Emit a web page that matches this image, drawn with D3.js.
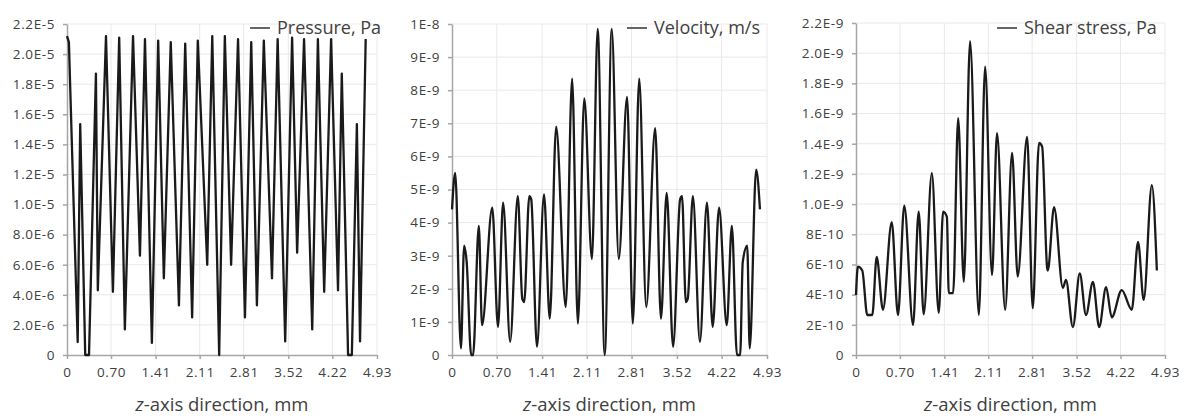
<!DOCTYPE html>
<html lang="en">
<head>
    <meta charset="UTF-8">
    <title>Pressure, velocity and shear stress along z</title>
    <script src="https://d3js.org/d3.v7.min.js"></script>
    <style>
        body { margin: 0; background: #fff; }
        .grid line { stroke: #e9e9e9; stroke-width: 1; }
        .axis path, .axis line { stroke: #a6a6a6; stroke-width: 1.5; }
        .axis text { font-family: 'Open Sans', sans-serif; font-size: 13.5px; fill: #404040; letter-spacing: 0.6px; }
        .data-line { fill: none; stroke: #1a1a1a; stroke-width: 2.3; stroke-linejoin: round; }
        .legend text { font-family: 'Open Sans', sans-serif; font-size: 18px; fill: #404040; }
        .title { font-family: 'Open Sans', sans-serif; font-size: 18.5px; fill: #404040; }
    </style>
</head>
<body>
<script>
    // x axis (mm) shared by the three panels
    const xTickValues = [0, 0.70, 1.41, 2.11, 2.81, 3.52, 4.22, 4.93];
    const xTickLabels = ['0', '0.70', '1.41', '2.11', '2.81', '3.52', '4.22', '4.93'];

    // pressure, Pa
    const pressureZ = [0.00, 0.03, 0.17, 0.21, 0.29, 0.35, 0.46, 0.49, 0.62, 0.73, 0.83, 0.92, 1.05, 1.16, 1.24, 1.35,
        1.45, 1.54, 1.65, 1.78, 1.88, 1.99, 2.08, 2.23, 2.31, 2.42, 2.51, 2.61, 2.72, 2.83, 2.93, 3.02, 3.13, 3.26,
        3.35, 3.47, 3.58, 3.66, 3.77, 3.90, 3.99, 4.09, 4.20, 4.31, 4.37, 4.47, 4.53, 4.61, 4.66, 4.75];
    const pressureVals = [2.12e-5, 2.08e-5, 0.86e-6, 1.535e-5, 0, 0, 1.87e-5, 4.3e-6, 2.12e-5, 4.2e-6, 2.11e-5, 1.7e-6,
        2.12e-5, 6.6e-6, 2.10e-5, 0.8e-6, 2.09e-5, 5.1e-6, 2.08e-5, 3.3e-6, 2.07e-5, 2.5e-6, 2.09e-5, 6.0e-6, 2.12e-5,
        0, 2.12e-5, 6.0e-6, 2.10e-5, 2.5e-6, 2.08e-5, 3.3e-6, 2.09e-5, 5.1e-6, 2.10e-5, 0.9e-6, 2.11e-5, 6.8e-6,
        2.10e-5, 1.7e-6, 2.10e-5, 4.2e-6, 2.10e-5, 4.3e-6, 1.87e-5, 0, 0, 1.535e-5, 0.9e-6, 2.10e-5];
    const pressureTicks = [0, 2e-6, 4e-6, 6e-6, 8e-6, 1e-5, 1.2e-5, 1.4e-5, 1.6e-5, 1.8e-5, 2e-5, 2.2e-5];
    const pressureTickLabels = ['0', '2.0E-6', '4.0E-6', '6.0E-6', '8.0E-6', '1.0E-5', '1.2E-5', '1.4E-5', '1.6E-5',
        '1.8E-5', '2.0E-5', '2.2E-5'];

    // velocity, m/s
    const velocityZ = [0.00, 0.05, 0.14, 0.19, 0.23, 0.30, 0.33, 0.42, 0.47, 0.63, 0.72, 0.80, 0.91, 1.03, 1.10, 1.13,
        1.21, 1.24, 1.33, 1.44, 1.53, 1.63, 1.78, 1.88, 1.97, 2.07, 2.19, 2.28, 2.39, 2.50, 2.61, 2.74, 2.83, 2.93,
        3.04, 3.18, 3.27, 3.36, 3.46, 3.57, 3.60, 3.66, 3.69, 3.77, 3.88, 3.99, 4.08, 4.18, 4.30, 4.38, 4.46, 4.51,
        4.55, 4.62, 4.66, 4.76, 4.82];
    const velocityVals = [4.4e-9, 5.5e-9, 0.2e-9, 3.3e-9, 2.8e-9, 0, 0, 3.9e-9, 0.9e-9, 4.45e-9, 0.85e-9, 4.6e-9, 0.4e-9,
        4.8e-9, 1.7e-9, 1.6e-9, 4.8e-9, 4.7e-9, 0.25e-9, 4.85e-9, 1.1e-9, 6.9e-9, 1.45e-9, 8.35e-9, 0.95e-9, 7.75e-9,
        2.9e-9, 9.85e-9, 0, 9.85e-9, 2.9e-9, 7.8e-9, 0.95e-9, 8.35e-9, 1.45e-9, 6.85e-9, 1.1e-9, 4.9e-9, 0.25e-9,
        4.7e-9, 4.8e-9, 1.6e-9, 1.7e-9, 4.8e-9, 0.4e-9, 4.6e-9, 0.85e-9, 4.45e-9, 0.9e-9, 3.9e-9, 0, 0, 2.8e-9,
        3.3e-9, 0.2e-9, 5.6e-9, 4.4e-9];
    const velocityTicks = [0, 1e-9, 2e-9, 3e-9, 4e-9, 5e-9, 6e-9, 7e-9, 8e-9, 9e-9, 1e-8];
    const velocityTickLabels = ['0', '1E-9', '2E-9', '3E-9', '4E-9', '5E-9', '6E-9', '7E-9', '8E-9', '9E-9', '1E-8'];

    // shear stress, Pa
    const shearZ = [0.00, 0.03, 0.10, 0.18, 0.26, 0.33, 0.43, 0.57, 0.67, 0.77, 0.91, 1.00, 1.08, 1.21, 1.32, 1.39,
        1.45, 1.48, 1.55, 1.63, 1.72, 1.82, 1.96, 2.06, 2.17, 2.25, 2.38, 2.49, 2.58, 2.73, 2.82, 2.92, 2.97, 3.05,
        3.06, 3.16, 3.30, 3.35, 3.46, 3.57, 3.67, 3.78, 3.88, 3.99, 4.08, 4.24, 4.40, 4.50, 4.59, 4.72, 4.80];
    const shearVals = [3.98e-10, 5.85e-10, 5.6e-10, 2.65e-10, 2.65e-10, 6.5e-10, 3.0e-10, 8.8e-10, 2.65e-10, 9.9e-10,
        2.0e-10, 9.5e-10, 2.7e-10, 1.205e-9, 2.8e-10, 9.5e-10, 9.15e-10, 4.1e-10, 4.1e-10, 1.57e-9, 4.85e-10, 2.08e-9,
        2.65e-10, 1.91e-9, 5.3e-10, 1.47e-9, 3.0e-10, 1.34e-9, 5.2e-10, 1.445e-9, 3.1e-10, 1.405e-9, 1.38e-9,
        5.75e-10, 5.6e-10, 9.8e-10, 4.45e-10, 4.97e-10, 1.85e-10, 5.4e-10, 2.65e-10, 4.85e-10, 1.85e-10, 4.5e-10,
        2.5e-10, 4.3e-10, 3.0e-10, 7.5e-10, 3.65e-10, 1.125e-9, 5.6e-10];
    const shearTicks = [0, 2e-10, 4e-10, 6e-10, 8e-10, 1e-9, 1.2e-9, 1.4e-9, 1.6e-9, 1.8e-9, 2e-9, 2.2e-9];
    const shearTickLabels = ['0', '2E-10', '4E-10', '6E-10', '8E-10', '1.0E-9', '1.2E-9', '1.4E-9', '1.6E-9', '1.8E-9',
        '2.0E-9', '2.2E-9'];

    const svg = d3.select('body').append('svg')
        .attr('width', 1184)
        .attr('height', 419);

    const panels = [
        {left: 67, right: 377, top: 24, bottom: 355, z: pressureZ, v: pressureVals, ticks: pressureTicks,
         labels: pressureTickLabels, name: 'Pressure, Pa', legendX: 250, curve: d3.curveLinear},
        {left: 452, right: 767, top: 24, bottom: 355, z: velocityZ, v: velocityVals, ticks: velocityTicks,
         labels: velocityTickLabels, name: 'Velocity, m/s', legendX: 627, curve: d3.curveMonotoneX},
        {left: 856, right: 1165, top: 23, bottom: 355, z: shearZ, v: shearVals, ticks: shearTicks,
         labels: shearTickLabels, name: 'Shear stress, Pa', legendX: 997, curve: d3.curveMonotoneX}
    ];

    panels.forEach(p => {
        const x = d3.scaleLinear().domain([0, 4.93]).range([p.left, p.right]);
        const y = d3.scaleLinear().domain([0, p.ticks[p.ticks.length - 1]]).range([p.bottom, p.top]);

        // gridlines
        const grid = svg.append('g').attr('class', 'grid');
        grid.selectAll('.h').data(p.ticks.slice(1)).enter().append('line')
            .attr('x1', p.left).attr('x2', p.right)
            .attr('y1', d => y(d)).attr('y2', d => y(d));
        grid.selectAll('.v').data(xTickValues.slice(1)).enter().append('line')
            .attr('x1', d => x(d)).attr('x2', d => x(d))
            .attr('y1', p.top).attr('y2', p.bottom);

        // axes
        svg.append('g')
            .attr('class', 'axis')
            .attr('transform', `translate(${p.left},0)`)
            .call(d3.axisLeft(y).tickValues(p.ticks).tickFormat((d, i) => p.labels[i])
                .tickSize(4).tickSizeOuter(0).tickPadding(8));

        svg.append('g')
            .attr('class', 'axis')
            .attr('transform', `translate(0,${p.bottom})`)
            .call(d3.axisBottom(x).tickValues(xTickValues).tickFormat((d, i) => xTickLabels[i])
                .tickSize(4).tickSizeOuter(0).tickPadding(8));

        // data line
        const pts = p.z.map((z, i) => [z, p.v[i]]);
        svg.append('path')
            .datum(pts)
            .attr('class', 'data-line')
            .attr('d', d3.line().x(d => x(d[0])).y(d => y(d[1])).curve(p.curve));

        // legend
        const lg = svg.append('g').attr('class', 'legend');
        lg.append('line')
            .attr('x1', p.legendX).attr('x2', p.legendX + 20)
            .attr('y1', 28).attr('y2', 28)
            .attr('stroke', '#333').attr('stroke-width', 1.5);
        lg.append('text')
            .attr('x', p.legendX + 27).attr('y', 34)
            .text(p.name);

        // axis title
        const t = svg.append('text')
            .attr('class', 'title')
            .attr('x', (p.left + p.right) / 2)
            .attr('y', 411)
            .attr('text-anchor', 'middle');
        t.append('tspan').style('font-style', 'italic').text('z');
        t.append('tspan').text('-axis direction, mm');
    });
</script>
</body>
</html>
